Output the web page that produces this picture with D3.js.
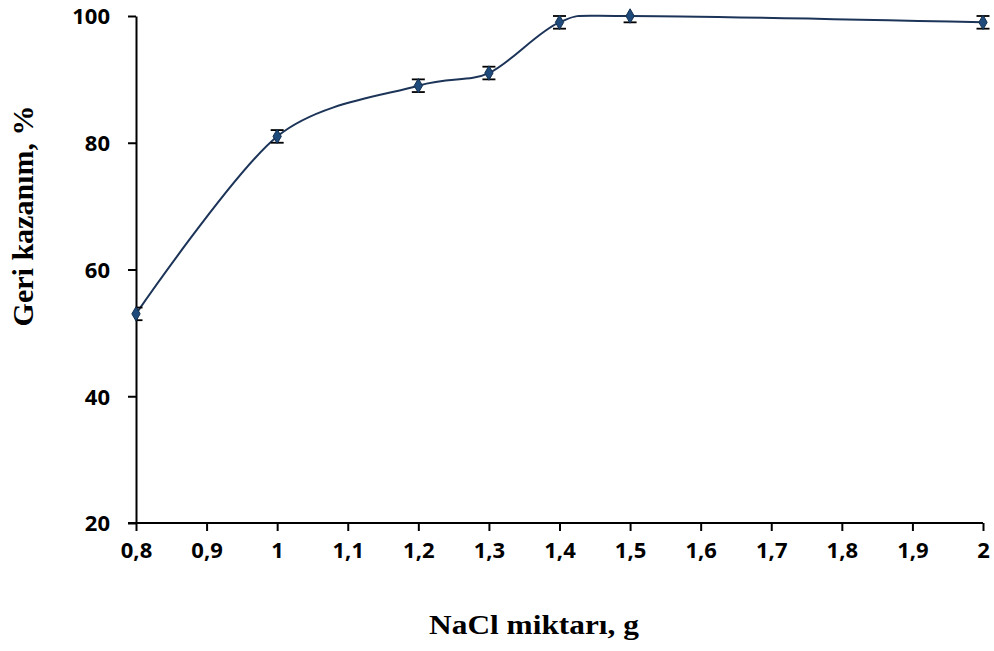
<!DOCTYPE html>
<html>
<head>
<meta charset="utf-8">
<script src="https://cdn.jsdelivr.net/npm/d3@7"></script>
<style>
  html, body { margin: 0; padding: 0; background: #fff; }
  svg { display: block; }
</style>
</head>
<body>
<svg id="chart" width="994" height="651"></svg>
<script>
// NaCl amount (g) vs. recovery (%)
const naclAmount = [0.8, 1.0, 1.2, 1.3, 1.4, 1.5, 2.0];
const recovery   = [53, 81, 89, 91, 99, 100, 99];
const recoveryErr = [1, 1, 1, 1, 1, 1, 1];
const xTicks = [0.8, 0.9, 1.0, 1.1, 1.2, 1.3, 1.4, 1.5, 1.6, 1.7, 1.8, 1.9, 2.0];
const yTicks = [20, 40, 60, 80, 100];
const xTitle = "NaCl miktarı, g";
const yTitle = "Geri kazanım, %";

const svg = d3.select("#chart");
const plotLeft = 136, plotRight = 983, plotTop = 16, plotBottom = 523;

const x = d3.scaleLinear().domain([0.8, 2.0]).range([plotLeft, plotRight]);
const y = d3.scaleLinear().domain([20, 100]).range([plotBottom, plotTop]);

const fmt = d => String(+d.toFixed(1)).replace(".", ",");
const tickFont = "'Open Sans', sans-serif";
const titleFont = "'Liberation Serif', 'Times New Roman', serif";

// Axes
const xAxis = svg.append("g")
  .attr("transform", `translate(0,${plotBottom})`)
  .call(d3.axisBottom(x).tickValues(xTicks).tickFormat(fmt).tickSizeOuter(0).tickSizeInner(8).tickPadding(11));
const yAxis = svg.append("g")
  .attr("transform", `translate(${plotLeft},0)`)
  .call(d3.axisLeft(y).tickValues(yTicks).tickSizeOuter(0).tickSizeInner(8).tickPadding(18));

[xAxis, yAxis].forEach(a => {
  a.select(".domain").attr("stroke", "#000").attr("stroke-width", 2);
  a.selectAll(".tick line").attr("stroke", "#000").attr("stroke-width", 2);
  a.selectAll(".tick text")
    .attr("fill", "#000")
    .style("font-family", tickFont)
    .style("font-weight", 700)
    .style("font-size", "22px");
});
// extend x-axis line to meet the 20 tick on the left
xAxis.select(".domain").attr("d", `M${plotLeft - 8},0H${plotRight}`);
yAxis.selectAll(".tick text").attr("dy", "0.36em");

// Clip for error bars (plot area)
svg.append("defs").append("clipPath").attr("id", "plotClip")
  .append("rect")
  .attr("x", plotLeft).attr("y", plotTop - 1)
  .attr("width", plotRight - plotLeft + 12).attr("height", plotBottom - plotTop + 1);

const pts = naclAmount.map((v, i) => ({ x: v, y: recovery[i], e: recoveryErr[i] }));

// Smoothed line
const line = d3.line()
  .x(d => x(d.x))
  .y(d => y(d.y))
  .curve(d3.curveCardinal.tension(0.1));
svg.append("path")
  .datum(pts)
  .attr("fill", "none")
  .attr("stroke", "#1c3458")
  .attr("stroke-width", 2)
  .attr("d", line);

// Error bars
const eb = svg.append("g").attr("clip-path", "url(#plotClip)")
  .attr("stroke", "#000").attr("stroke-width", 1.8);
const cap = 6.5;
pts.forEach(d => {
  const cx = x(d.x), y1 = y(d.y + d.e), y0 = y(d.y - d.e);
  eb.append("line").attr("x1", cx).attr("x2", cx).attr("y1", y1).attr("y2", y0);
  eb.append("line").attr("x1", cx - cap).attr("x2", cx + cap).attr("y1", y1).attr("y2", y1);
  eb.append("line").attr("x1", cx - cap).attr("x2", cx + cap).attr("y1", y0).attr("y2", y0);
});

// Diamond markers
svg.append("g").selectAll("path")
  .data(pts)
  .join("path")
  .attr("transform", d => `translate(${x(d.x)},${y(d.y)})`)
  .attr("d", d3.symbol().type(d3.symbolDiamond).size(60))
  .attr("fill", "#1f4a7c")
  .attr("stroke", "#14304f")
  .attr("stroke-width", 1);

// Axis titles
svg.append("text")
  .attr("transform", `translate(534,634) scale(1.12,1)`)
  .attr("text-anchor", "middle")
  .style("font-family", titleFont)
  .style("font-weight", 700)
  .style("font-size", "28px")
  .attr("fill", "#000")
  .text(xTitle);

svg.append("text")
  .attr("transform", `translate(33,216) rotate(-90)`)
  .attr("text-anchor", "middle")
  .style("font-family", titleFont)
  .style("font-weight", 700)
  .style("font-size", "30px")
  .attr("fill", "#000")
  .text(yTitle);
</script>
</body>
</html>
